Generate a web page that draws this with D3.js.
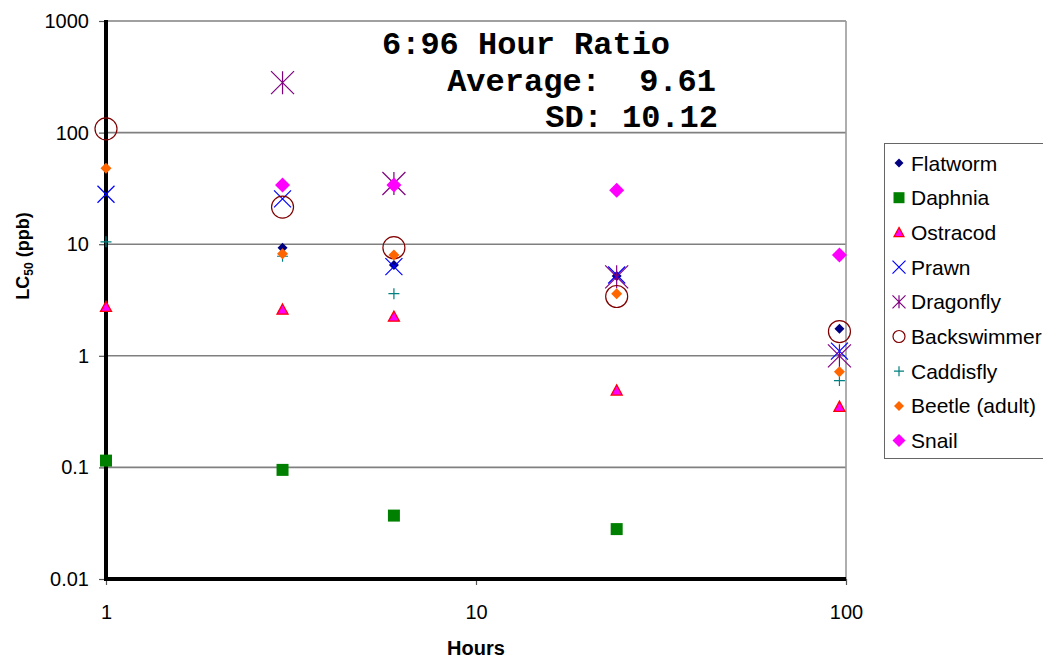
<!DOCTYPE html>
<html>
<head>
<meta charset="utf-8">
<script src="https://cdn.jsdelivr.net/npm/d3@7"></script>
<style>
  body { margin: 0; background: #fff; }
  svg { display: block; font-family: "Liberation Sans", Arial, sans-serif; }
</style>
</head>
<body>
<svg id="chart" width="1043" height="660"></svg>
<script>
// hours of exposure, one column per time point
const hours = [1, 3, 6, 24, 96];

// LC50 values (ppb) per species, null where no point is shown
const flatworm    = [null, 9.3, 6.5, 5.2, 1.75];
const daphnia     = [0.115, 0.095, 0.037, 0.028, null];
const ostracod    = [2.75, 2.6, 2.25, 0.49, 0.35];
const prawn       = [28, 25.5, 6.3, 5.3, 1.1];
const dragonfly   = [null, 280, 35, 5.1, 1.0];
const backswimmer = [108, 21.5, 9.3, 3.4, 1.65];
const caddisfly   = [10.5, 7.8, 3.6, null, 0.6];
const beetle      = [48, 8.2, 8.0, 3.6, 0.72];
const snail       = [null, 34, 34, 30.5, 8.0];

const yTicks = [0.01, 0.1, 1, 10, 100, 1000];
const xTicks = [1, 10, 100];

const titleLines = ["6:96 Hour Ratio", "Average:\u00A0\u00A09.61", "SD: 10.12"];

const series = [
  { name: "Flatworm",      values: flatworm,    shape: "diamond",  size: 5,    lsize: 4.5, fill: "#000080", stroke: "none" },
  { name: "Daphnia",       values: daphnia,     shape: "square",   size: 6,    lsize: 5.5, fill: "#008000", stroke: "none" },
  { name: "Ostracod",      values: ostracod,    shape: "triangle", size: 5.5,  lsize: 5,   fill: "#FF00FF", stroke: "#FF0000" },
  { name: "Prawn",         values: prawn,       shape: "cross",    size: 8.5,  lsize: 6.5, fill: "none",    stroke: "#0000FF" },
  { name: "Dragonfly",     values: dragonfly,   shape: "star",     size: 11.5, lsize: 6.5, fill: "none",    stroke: "#800080" },
  { name: "Backswimmer",   values: backswimmer, shape: "circle",   size: 11,   lsize: 6,   fill: "none",    stroke: "#800000" },
  { name: "Caddisfly",     values: caddisfly,   shape: "plus",     size: 5.5,  lsize: 5,   fill: "none",    stroke: "#008080" },
  { name: "Beetle (adult)",values: beetle,      shape: "diamond",  size: 5.5,  lsize: 5,   fill: "#FF6600", stroke: "none" },
  { name: "Snail",         values: snail,       shape: "diamond",  size: 7.5,  lsize: 6.5, fill: "#FF00FF", stroke: "none" }
];

const shapePath = (shape, s) => {
  switch (shape) {
    case "diamond":  return `M0,${-s}L${s},0L0,${s}L${-s},0Z`;
    case "square":   return `M${-s},${-s}H${s}V${s}H${-s}Z`;
    case "triangle": return `M0,${-s}L${s},${s * 0.85}L${-s},${s * 0.85}Z`;
    case "cross":    return `M${-s},${-s}L${s},${s}M${s},${-s}L${-s},${s}`;
    case "star":     return `M${-s},${-s}L${s},${s}M${s},${-s}L${-s},${s}M0,${-s}V${s}`;
    case "plus":     return `M${-s},0H${s}M0,${-s}V${s}`;
    case "circle":   return `M${s},0A${s},${s} 0 1,1 ${-s},0A${s},${s} 0 1,1 ${s},0Z`;
  }
};

const svg = d3.select("#chart");

const plotLeft = 106, plotRight = 846, plotTop = 21, plotBottom = 579;

const x = d3.scaleLog().domain([1, 100]).range([plotLeft, plotRight]);
const y = d3.scaleLog().domain([0.01, 1000]).range([plotBottom, plotTop]);

// gridlines
svg.append("g")
  .selectAll("line")
  .data(yTicks.slice(1))
  .enter().append("line")
  .attr("x1", plotLeft).attr("x2", plotRight)
  .attr("y1", d => y(d)).attr("y2", d => y(d))
  .attr("stroke", "#808080")
  .attr("stroke-width", 1.6);

// right border
svg.append("line")
  .attr("x1", plotRight).attr("x2", plotRight)
  .attr("y1", plotTop).attr("y2", plotBottom)
  .attr("stroke", "#9a9a9a")
  .attr("stroke-width", 1.6);

// axes
const yAxis = svg.append("g")
  .attr("transform", `translate(${plotLeft},0)`)
  .call(d3.axisLeft(y).tickValues(yTicks).tickFormat(d => String(d)).tickSize(7).tickPadding(10));

const xAxis = svg.append("g")
  .attr("transform", `translate(0,${plotBottom})`)
  .call(d3.axisBottom(x).tickValues(xTicks).tickFormat(d => String(d)).tickSize(6).tickPadding(20));

[yAxis, xAxis].forEach(a => {
  a.select(".domain").remove();
  a.selectAll(".tick line").attr("stroke", "#555").attr("stroke-width", 1.2);
  a.selectAll(".tick text")
    .attr("fill", "#000")
    .style("font-family", "'Liberation Sans', Arial, sans-serif")
    .style("font-size", "20px");
});

// thick axis lines
svg.append("line")
  .attr("x1", plotLeft).attr("x2", plotLeft)
  .attr("y1", plotTop - 1).attr("y2", plotBottom + 2)
  .attr("stroke", "#000").attr("stroke-width", 4);
svg.append("line")
  .attr("x1", plotLeft - 2).attr("x2", plotRight)
  .attr("y1", plotBottom).attr("y2", plotBottom)
  .attr("stroke", "#000").attr("stroke-width", 4);

// points
series.forEach(s => {
  svg.append("g")
    .attr("class", "series")
    .selectAll("path")
    .data(hours.map((h, i) => ({ h: h, v: s.values[i] })).filter(d => d.v != null))
    .enter().append("path")
    .attr("transform", d => `translate(${x(d.h)},${y(d.v)})`)
    .attr("d", shapePath(s.shape, s.size))
    .attr("fill", s.fill)
    .attr("stroke", s.stroke)
    .attr("stroke-width", s.shape === "triangle" ? 1.3 : 1.2);
});

// axis titles
svg.append("text")
  .attr("x", 476).attr("y", 655)
  .attr("text-anchor", "middle")
  .style("font-size", "20px").style("font-weight", "bold")
  .text("Hours");

const yTitle = svg.append("text")
  .attr("transform", "translate(29,256) rotate(-90)")
  .attr("text-anchor", "middle")
  .style("font-size", "18px").style("font-weight", "bold");
yTitle.append("tspan").text("LC");
yTitle.append("tspan").attr("dy", 4).style("font-size", "12px").text("50");
yTitle.append("tspan").attr("dy", -4).text(" (ppb)");

// ratio annotation
const note = svg.append("g")
  .style("font-family", "'Liberation Mono', 'Courier New', monospace")
  .style("font-weight", "bold")
  .style("font-size", "32px");
note.append("text").attr("x", 382).attr("y", 54).text(titleLines[0]);
note.append("text").attr("x", 716).attr("y", 91).attr("text-anchor", "end").text(titleLines[1]);
note.append("text").attr("x", 718).attr("y", 127).attr("text-anchor", "end").text(titleLines[2]);

// legend
const legend = svg.append("g").attr("transform", "translate(884,143)");
legend.append("rect")
  .attr("x", 0.5).attr("y", 0.5)
  .attr("width", 200).attr("height", 315)
  .attr("fill", "#fff")
  .attr("stroke", "#666");

const item = legend.selectAll("g.item")
  .data(series)
  .enter().append("g")
  .attr("class", "item")
  .attr("transform", (d, i) => `translate(0,${20 + i * 34.7})`);

item.append("path")
  .attr("transform", "translate(15,0)")
  .attr("d", d => shapePath(d.shape, d.lsize))
  .attr("fill", d => d.fill)
  .attr("stroke", d => d.stroke)
  .attr("stroke-width", 1.2);

item.append("text")
  .attr("x", 27).attr("dy", "0.36em")
  .style("font-size", "21px")
  .text(d => d.name);
</script>
</body>
</html>
